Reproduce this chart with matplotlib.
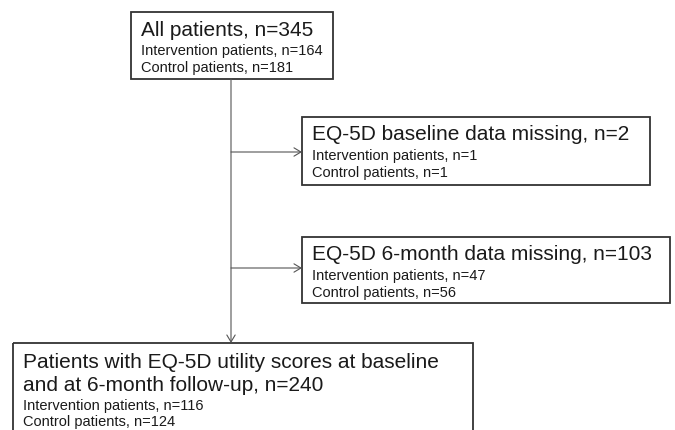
import matplotlib
matplotlib.use("Agg")
import matplotlib.pyplot as plt
from matplotlib.patches import Rectangle, FancyArrowPatch

plt.rcParams['font.family'] = ['Liberation Sans', 'DejaVu Sans']

# flowchart content
titles = [
    ["All patients, n={}"],
    ["EQ-5D baseline data missing, n={}"],
    ["EQ-5D 6-month data missing, n={}"],
    ["Patients with EQ-5D utility scores at baseline", "and at 6-month follow-up, n={}"],
]
totals = [345, 2, 103, 240]
intervention = [164, 1, 47, 116]
control = [181, 1, 56, 124]

# box geometry in pixels (x0, y0, x1, y1), y from top
boxes = [(131, 12, 333, 79), (302, 117, 650, 185), (302, 237, 670, 303), (13, 343, 473, 470)]
text_x = [141, 312, 312, 23]
title_base = [[36], [140], [260], [368, 391]]
sub_base = [(55, 72), (160, 177), (280, 297), (410, 426)]

trunk_x = 231
branch_y = [152, 268]

fig = plt.figure(figsize=(6.75, 4.3), dpi=100)
ax = fig.add_axes([0, 0, 1, 1])
ax.set_xlim(0, 675)
ax.set_ylim(430, 0)
ax.axis('off')

edge = '#333333'
line = '#555555'
txt = '#1a1a1a'

for i, (x0, y0, x1, y1) in enumerate(boxes):
    ax.add_patch(Rectangle((x0, y0), x1 - x0, y1 - y0, fill=False,
                           edgecolor=edge, linewidth=1.3, clip_on=False))
    for j, t in enumerate(titles[i]):
        ax.text(text_x[i], title_base[i][j], t.format(totals[i]), fontsize=15,
                color=txt, va='baseline', ha='left')
    ax.text(text_x[i], sub_base[i][0], "Intervention patients, n={}".format(intervention[i]),
            fontsize=10.5, color=txt, va='baseline', ha='left')
    ax.text(text_x[i], sub_base[i][1], "Control patients, n={}".format(control[i]),
            fontsize=10.5, color=txt, va='baseline', ha='left')

# trunk down to the final box
ax.add_patch(FancyArrowPatch((trunk_x, boxes[0][3]), (trunk_x, boxes[3][1]),
                             arrowstyle='->,head_length=5,head_width=3', color=line,
                             linewidth=0.8, shrinkA=0, shrinkB=0, mutation_scale=1))
# side branches to exclusion boxes
for k, by in enumerate(branch_y):
    ax.add_patch(FancyArrowPatch((trunk_x, by), (boxes[k + 1][0], by),
                                 arrowstyle='->,head_length=5,head_width=3', color=line,
                                 linewidth=0.8, shrinkA=0, shrinkB=0, mutation_scale=1))

fig.savefig('out.png', dpi=100)
